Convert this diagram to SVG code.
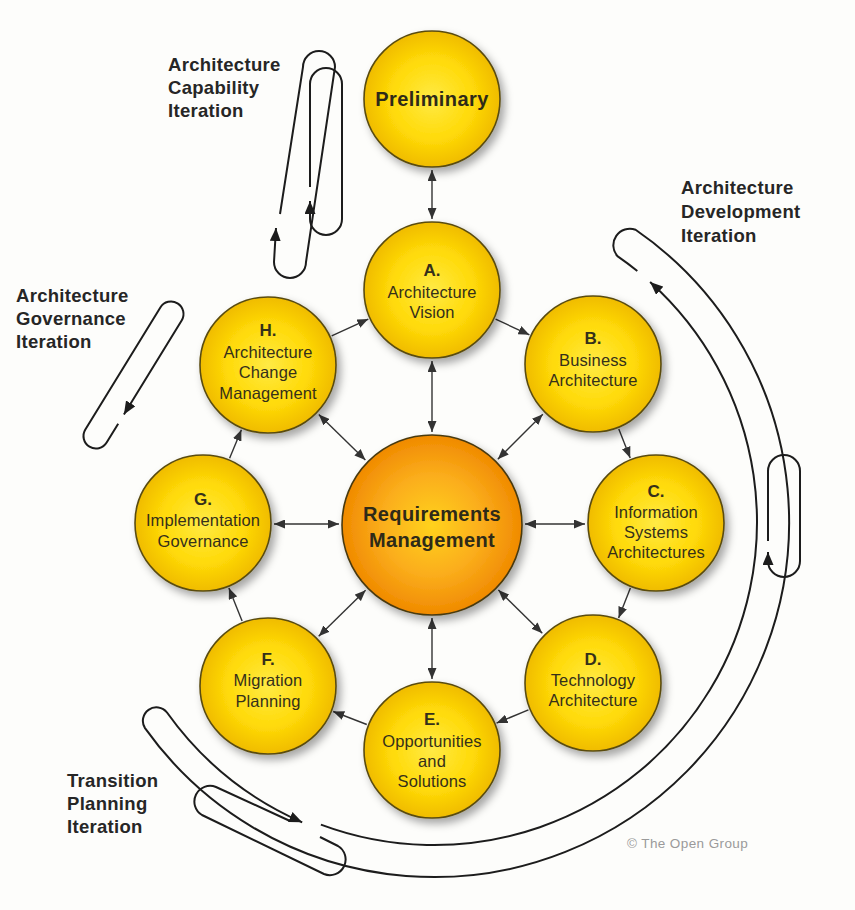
<svg xmlns="http://www.w3.org/2000/svg" width="855" height="910" viewBox="0 0 855 910">
<defs>
<style>
.yc{fill:url(#gy);stroke:#5a4c10;stroke-width:1.6;filter:url(#sh)}
.oc{fill:url(#go);stroke:#4a3a10;stroke-width:1.6;filter:url(#sh)}
.t{font-family:"Liberation Sans",Arial,sans-serif;font-size:16.5px;fill:#35301a;text-anchor:middle;letter-spacing:0.1px}
.tl{font-family:"Liberation Sans",Arial,sans-serif;font-size:17px;font-weight:bold;fill:#35301a;text-anchor:middle}
.tb{font-family:"Liberation Sans",Arial,sans-serif;font-size:20px;font-weight:bold;fill:#2e2a18;text-anchor:middle;letter-spacing:0.4px}
.lab{font-family:"Liberation Sans",Arial,sans-serif;font-size:18.5px;font-weight:bold;fill:#262626;letter-spacing:0.3px}
.cp{font-family:"Liberation Sans",Arial,sans-serif;font-size:13.5px;fill:#9a9a9a;letter-spacing:0.4px}
.c{stroke:#333;stroke-width:1.4;fill:none}
.c1{marker-end:url(#ah)}
.c2{marker-start:url(#ah);marker-end:url(#ah)}
.it{stroke:#1c1c1c;stroke-width:2;fill:none}
.ita{marker-end:url(#big)}
</style>
<radialGradient id="gy" cx="50%" cy="50%" r="50%">
<stop offset="0" stop-color="#FFEA45"/>
<stop offset="0.6" stop-color="#FFDA08"/>
<stop offset="1" stop-color="#F0BC00"/>
</radialGradient>
<radialGradient id="go" cx="50%" cy="50%" r="50%">
<stop offset="0" stop-color="#FFD21A"/>
<stop offset="0.55" stop-color="#FBAE1C"/>
<stop offset="1" stop-color="#F08A00"/>
</radialGradient>
<filter id="sh" x="-20%" y="-20%" width="150%" height="150%">
<feDropShadow dx="4" dy="5" stdDeviation="4" flood-color="#000" flood-opacity="0.35"/>
</filter>
<marker id="ah" markerUnits="userSpaceOnUse" markerWidth="11" markerHeight="9" refX="11" refY="4.5" orient="auto-start-reverse">
<path d="M0,0 L11,4.5 L0,9 z" fill="#333"/>
</marker>
<marker id="big" markerUnits="userSpaceOnUse" markerWidth="13" markerHeight="11" refX="13" refY="5.5" orient="auto">
<path d="M0,0 L13,5.5 L0,11 z" fill="#1c1c1c"/>
</marker>
</defs>
<rect width="855" height="910" fill="#fdfdfb"/>

<g id="iterations">
<path class="it ita" d="M280,214 L303,67 A16,16 0 0 1 335,67 L306,262 A16,16 0 0 1 274,262 L276,228"/>
<path class="it ita" d="M310,187 V84 A16,16 0 0 1 342,84 V219 A16,16 0 0 1 310,219 L310,201"/>
<path class="it ita" d="M118.2,423.8 L106.65,442.55 A12.5,12.5 0 0 1 85.35,429.45 L160.35,307.45 A12.5,12.5 0 0 1 181.65,320.55 L123.9,414.4"/>
<path class="it ita" d="M320.9,824.6 A323,323 0 0 0 650.1,282"/>
<path class="it ita" d="M637.3,271 A323,323 0 0 0 617.4,256.1 A16.5,16.5 0 0 1 635.6,229.8 A355,355 0 1 1 145,728.1 A13.5,13.5 0 0 1 167,712.5 A328,328 0 0 0 302.2,822.3"/>
<path class="it ita" d="M768,541 V471 A16,16 0 0 1 800,471 V561 A16,16 0 0 1 768,561 L768,552"/>
<path class="it" d="M320,837 L338,846 A15.7,15.7 0 0 1 324,874 L202,815 A15.7,15.7 0 0 1 216,787 L290,821"/>
</g>

<g id="connectors">
<line class="c c2" x1="432" y1="170" x2="432" y2="219"/>
<line class="c c2" x1="432" y1="361" x2="432" y2="432"/>
<line class="c c2" x1="497.8" y1="459.2" x2="542.8" y2="414.2"/>
<line class="c c2" x1="525" y1="524" x2="585" y2="524"/>
<line class="c c2" x1="498.4" y1="590.1" x2="542.3" y2="633.3"/>
<line class="c c2" x1="432" y1="618" x2="432" y2="679"/>
<line class="c c2" x1="365.6" y1="590.2" x2="318.7" y2="636.3"/>
<line class="c c2" x1="339" y1="524" x2="274" y2="524"/>
<line class="c c2" x1="365.4" y1="460" x2="318.8" y2="414.6"/>
<line class="c c1" x1="495.6" y1="319.2" x2="529.4" y2="334.8"/>
<line class="c c1" x1="618.8" y1="429.1" x2="630.2" y2="457.9"/>
<line class="c c1" x1="630.4" y1="588.1" x2="618.6" y2="617.9"/>
<line class="c c1" x1="528.4" y1="709.9" x2="496.6" y2="723.1"/>
<line class="c c1" x1="366.8" y1="724.5" x2="333.2" y2="711.5"/>
<line class="c c1" x1="242.1" y1="621" x2="228.9" y2="588"/>
<line class="c c1" x1="229.6" y1="458.3" x2="241.4" y2="429.8"/>
<line class="c c1" x1="331.7" y1="335.9" x2="368.3" y2="319.1"/>
</g>

<g id="node-preliminary">
<circle class="yc" cx="432" cy="99" r="68"/>
<text class="tb" x="432" y="106">Preliminary</text>
</g>
<g id="node-a">
<circle class="yc" cx="432" cy="290" r="68"/>
<text class="tl" x="432" y="276">A.</text>
<text class="t" x="432" y="298">Architecture</text>
<text class="t" x="432" y="318">Vision</text>
</g>
<g id="node-b">
<circle class="yc" cx="593" cy="364" r="68"/>
<text class="tl" x="593" y="344">B.</text>
<text class="t" x="593" y="366">Business</text>
<text class="t" x="593" y="386">Architecture</text>
</g>
<g id="node-c">
<circle class="yc" cx="656" cy="523" r="68"/>
<text class="tl" x="656" y="497">C.</text>
<text class="t" x="656" y="518">Information</text>
<text class="t" x="656" y="538">Systems</text>
<text class="t" x="656" y="558">Architectures</text>
</g>
<g id="node-d">
<circle class="yc" cx="593" cy="683" r="68"/>
<text class="tl" x="593" y="665">D.</text>
<text class="t" x="593" y="686">Technology</text>
<text class="t" x="593" y="706">Architecture</text>
</g>
<g id="node-e">
<circle class="yc" cx="432" cy="750" r="68"/>
<text class="tl" x="432" y="725">E.</text>
<text class="t" x="432" y="747">Opportunities</text>
<text class="t" x="432" y="767">and</text>
<text class="t" x="432" y="787">Solutions</text>
</g>
<g id="node-f">
<circle class="yc" cx="268" cy="686" r="68"/>
<text class="tl" x="268" y="665">F.</text>
<text class="t" x="268" y="686">Migration</text>
<text class="t" x="268" y="707">Planning</text>
</g>
<g id="node-g">
<circle class="yc" cx="203" cy="523" r="68"/>
<text class="tl" x="203" y="505">G.</text>
<text class="t" x="203" y="526">Implementation</text>
<text class="t" x="203" y="547">Governance</text>
</g>
<g id="node-h">
<circle class="yc" cx="268" cy="365" r="68"/>
<text class="tl" x="268" y="336">H.</text>
<text class="t" x="268" y="358">Architecture</text>
<text class="t" x="268" y="378">Change</text>
<text class="t" x="268" y="399">Management</text>
</g>
<g id="node-requirements">
<circle class="oc" cx="432" cy="525" r="90"/>
<text class="tb" x="432" y="521">Requirements</text>
<text class="tb" x="432" y="547">Management</text>
</g>

<g id="labels">
<text class="lab" x="168" y="71">Architecture</text>
<text class="lab" x="168" y="94">Capability</text>
<text class="lab" x="168" y="117">Iteration</text>
<text class="lab" x="681" y="194">Architecture</text>
<text class="lab" x="681" y="218">Development</text>
<text class="lab" x="681" y="242">Iteration</text>
<text class="lab" x="16" y="302">Architecture</text>
<text class="lab" x="16" y="325">Governance</text>
<text class="lab" x="16" y="348">Iteration</text>
<text class="lab" x="67" y="787">Transition</text>
<text class="lab" x="67" y="810">Planning</text>
<text class="lab" x="67" y="833">Iteration</text>
<text class="cp" x="627" y="848">© The Open Group</text>
</g>
</svg>
